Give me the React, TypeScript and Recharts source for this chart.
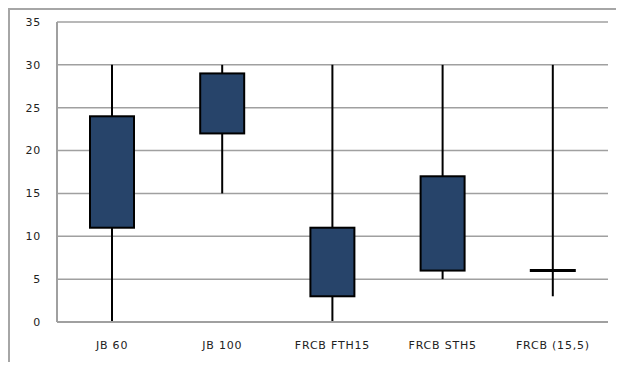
import React from "react";
import { ComposedChart, Bar, XAxis, YAxis, CartesianGrid } from "recharts";

const categories = ["JB 60", "JB 100", "FRCB FTH15", "FRCB STH5", "FRCB (15,5)"];
const whiskerLow = [0, 15, 0, 5, 3];
const whiskerHigh = [30, 30, 30, 30, 30];
const boxLow = [11, 22, 3, 6, 6];
const boxHigh = [24, 29, 11, 17, 6];
const yTicks = [0, 5, 10, 15, 20, 25, 30, 35];

const data = categories.map((name, i) => ({
  name,
  whisker: [whiskerLow[i], whiskerHigh[i]],
  box: [boxLow[i], boxHigh[i]],
}));

const FILL = "#27446A";
const GRID = "#a0a0a0";
const FONT = "'DejaVu Sans', Verdana, sans-serif";

const WhiskerShape = (props: any) => {
  const { x, y, width, height } = props;
  const cx = x + width / 2;
  return <line x1={cx} x2={cx} y1={y} y2={y + height} stroke="#000" strokeWidth={2} />;
};

const BoxShape = (props: any) => {
  const { x, y, width, height } = props;
  if (Math.abs(height) < 1) {
    return (
      <line x1={x - 1} x2={x + width + 1} y1={y} y2={y} stroke="#000" strokeWidth={3} />
    );
  }
  const top = Math.min(y, y + height);
  return (
    <rect x={x} y={top} width={width} height={Math.abs(height)} fill={FILL} stroke="#000" strokeWidth={2} />
  );
};

export default function App() {
  return (
    <div
      style={{
        borderTop: "2px solid #a6a6a6",
        borderLeft: "2px solid #a6a6a6",
        width: 614,
        height: 352,
      }}
    >
      <ComposedChart
        width={614}
        height={352}
        data={data}
        margin={{ top: 12, right: 16, bottom: 15, left: 0 }}
      >
        <CartesianGrid vertical={false} stroke={GRID} strokeWidth={1.5} />
        <XAxis
          xAxisId="a"
          dataKey="name"
          height={25}
          tickLine={false}
          tickSize={0}
          tickMargin={19}
          axisLine={{ stroke: GRID, strokeWidth: 2 }}
          tick={{ fill: "#222", fontSize: 11, fontFamily: FONT, letterSpacing: 0.8 }}
          interval={0}
        />
        <XAxis xAxisId="b" dataKey="name" hide />
        <YAxis
          width={47}
          domain={[0, 35]}
          ticks={yTicks}
          tickLine={false}
          tickSize={0}
          tickMargin={16}
          axisLine={{ stroke: GRID, strokeWidth: 2 }}
          tick={{ fill: "#222", fontSize: 11, fontFamily: FONT, letterSpacing: 0.8 }}
          interval={0}
        />
        <Bar
          xAxisId="a"
          dataKey="whisker"
          barSize={44}
          shape={WhiskerShape}
          isAnimationActive={false}
        />
        <Bar
          xAxisId="b"
          dataKey="box"
          barSize={44}
          shape={BoxShape}
          isAnimationActive={false}
        />
      </ComposedChart>
    </div>
  );
}
